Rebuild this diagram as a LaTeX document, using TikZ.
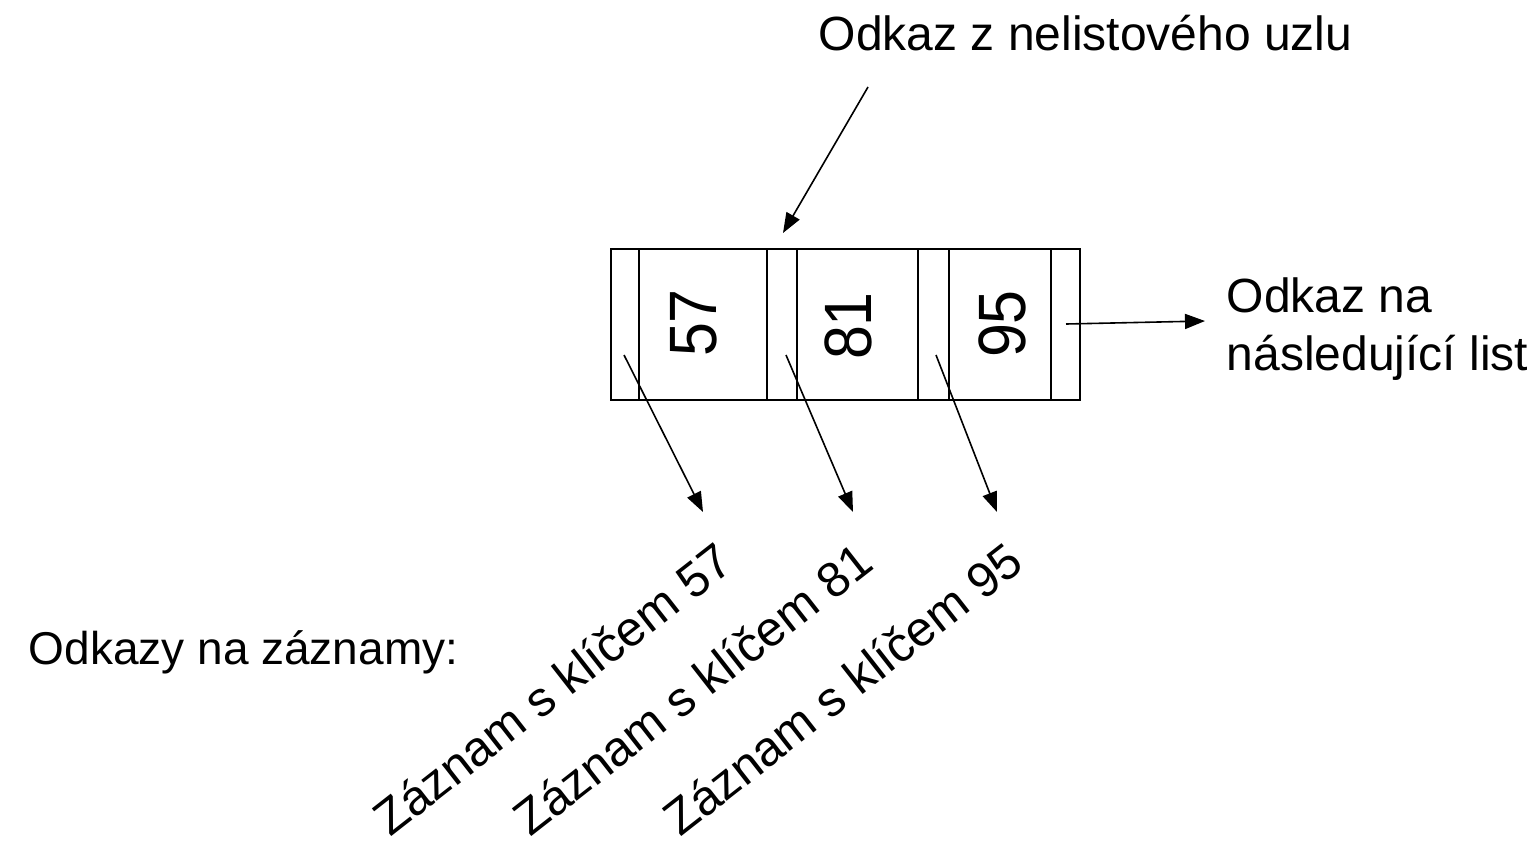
\documentclass[tikz,border=0pt]{standalone}
\usepackage{fontspec}
\setmainfont{Liberation Sans}
\usetikzlibrary{arrows.meta}
\begin{document}
\begin{tikzpicture}[x=1pt,y=-1pt, line width=1.6pt,
  lbl/.style={font=\fontsize{48}{58}\selectfont, inner sep=0pt},
  keytxt/.style={font=\fontsize{67}{70}\selectfont, inner sep=0pt, rotate=90},
  rec/.style={font=\fontsize{49}{58}\selectfont, inner sep=0pt, rotate=38, anchor=base west},
  ptr/.style={-{Triangle[length=20pt,width=15pt]}, line width=1.6pt}]
\useasboundingbox (0,0) rectangle (1533,844);
% leaf node box
\node[draw, minimum width=469pt, minimum height=151pt, inner sep=0pt] (leaf) at (845.5,324.5) {};
\foreach \x in {639,767,797,918,949,1051} \draw (\x,249) -- (\x,400);
\node[keytxt] (k57) at (694,323) {\scalebox{0.91}[1]{57}};
\node[keytxt] (k81) at (848,326) {\scalebox{0.91}[1]{81}};
\node[keytxt] (k95) at (1002,324) {\scalebox{0.91}[1]{95}};
% labels
\node[lbl, anchor=base west] (parent) at (818,50) {Odkaz z nelistového uzlu};
\node[lbl, anchor=north west, align=left] (next) at (1226,277) {Odkaz na\\následující list};
\node[lbl, font=\fontsize{46}{56}\selectfont, anchor=base west] (odk) at (28,664) {Odkazy na záznamy:};
\node[rec] (r57) at (390,838) {Záznam s klíčem 57};
\node[rec] (r81) at (530,838) {Záznam s klíčem 81};
\node[rec] (r95) at (680,838) {Záznam s klíčem 95};
% pointers
\coordinate (ps) at (868,87);  \coordinate (pt) at (783,233);
\coordinate (ns) at (1066,324); \coordinate (nt) at (1205,321);
\coordinate (p57) at (624,355); \coordinate (t57) at (703,512);
\coordinate (p81) at (786,355); \coordinate (t81) at (853,512);
\coordinate (p95) at (936,355); \coordinate (t95) at (997,512);
\draw[ptr] (ps) -- (pt);
\draw[ptr] (ns) -- (nt);
\draw[ptr] (p57) -- (t57);
\draw[ptr] (p81) -- (t81);
\draw[ptr] (p95) -- (t95);
\end{tikzpicture}
\end{document}
